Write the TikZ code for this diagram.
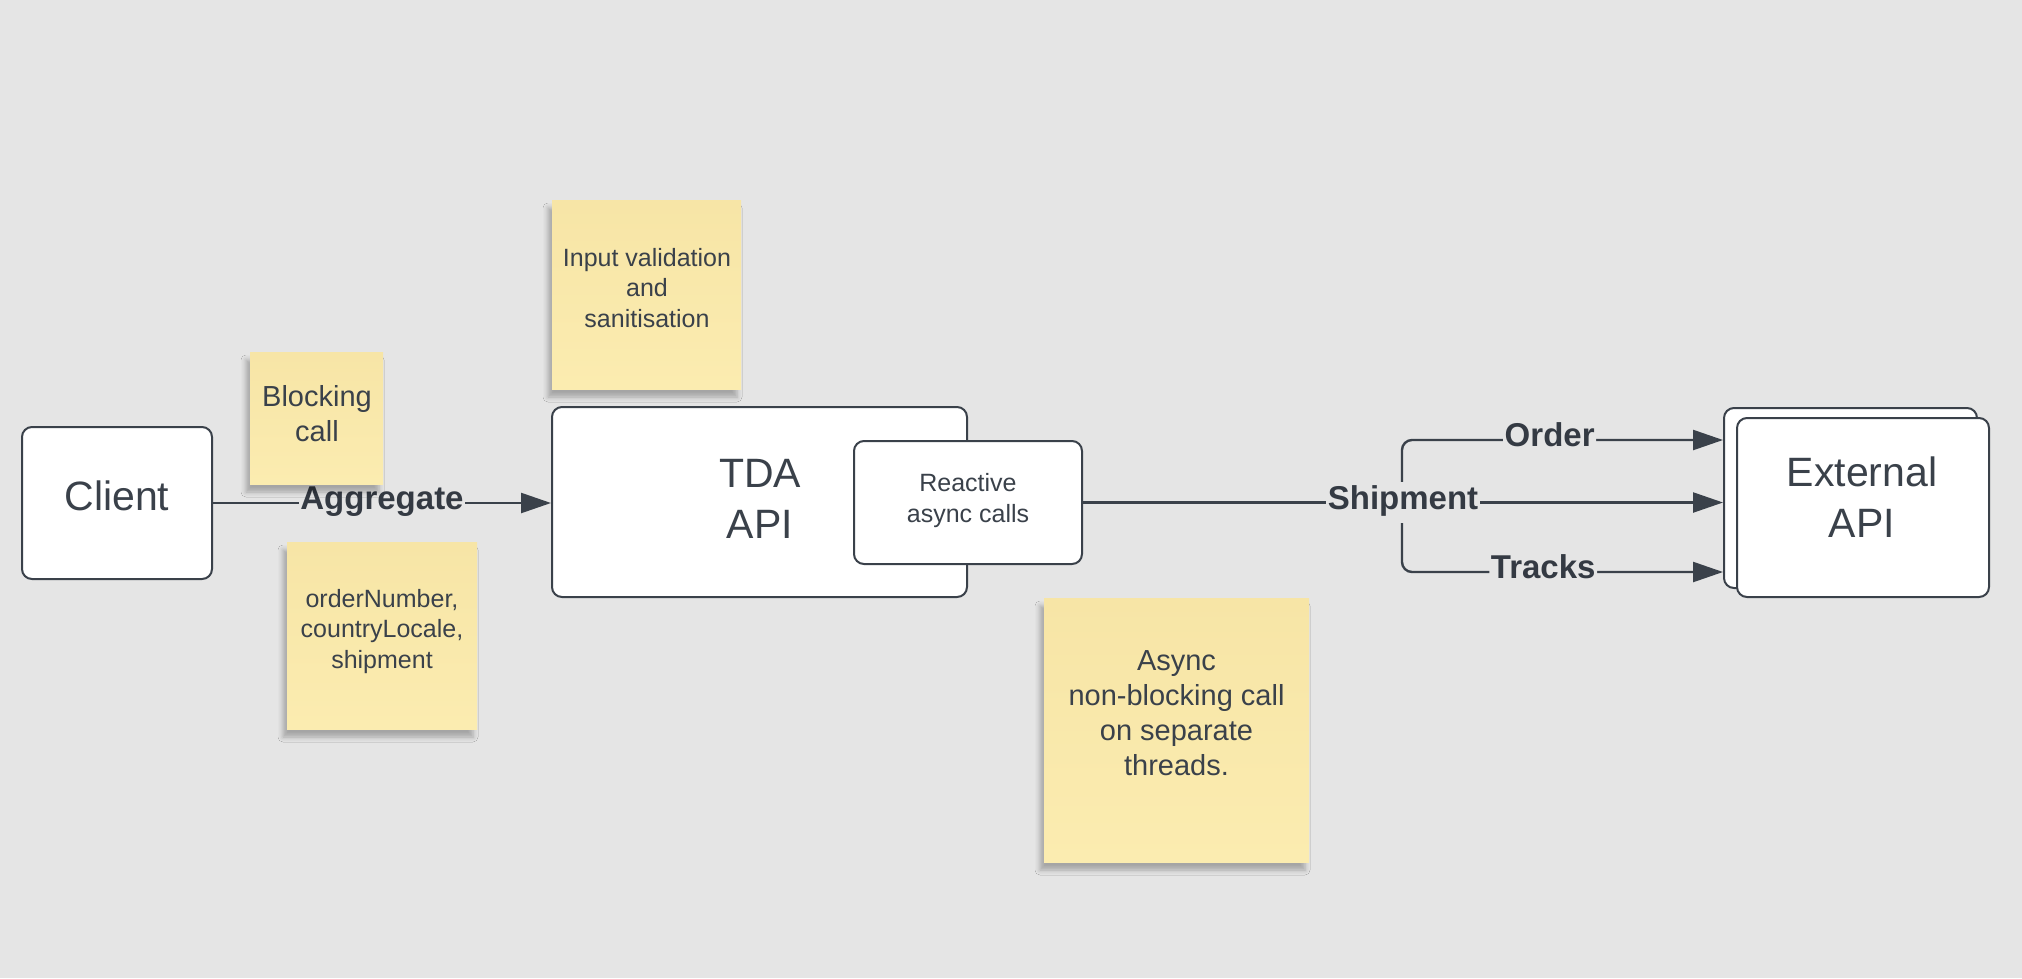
\documentclass[tikz,border=0pt]{standalone}
\usepackage{fontspec}
\setmainfont{Liberation Sans}
\usetikzlibrary{arrows.meta, shadows.blur}

\definecolor{canvas}{RGB}{229,229,229}
\definecolor{ink}{RGB}{58,65,74}
\definecolor{notetop}{RGB}{247,229,166}
\definecolor{notebot}{RGB}{251,236,176}

\begin{document}
\begin{tikzpicture}[x=1pt, y=-1pt,
        block/.style={draw=ink, line width=2pt, fill=white, rounded corners=10pt, inner sep=0pt},
        note/.style={top color=notetop, bottom color=notebot, inner sep=0pt,
            blur shadow={shadow xshift=-4pt, shadow yshift=-8pt, shadow blur radius=5pt, shadow opacity=28}},
        bigtext/.style={text=ink, font=\fontsize{41}{51}\selectfont, align=center, anchor=base},
        notetext/.style={text=ink, font=\fontsize{29}{35}\selectfont, align=center, anchor=base},
        smalltext/.style={text=ink, font=\fontsize{25}{30.5}\selectfont, align=center, anchor=base},
        conn/.style={draw=ink, line width=2.4pt},
        arrow/.style={conn, -{Triangle[length=30pt, width=20pt]}},
        lbl/.style={fill=canvas, text=ink!90!black, font=\bfseries\fontsize{33}{41}\selectfont,
            inner xsep=1.5pt, inner ysep=0pt, text height=27pt, text depth=14pt},]
    \fill[canvas] (0,0) rectangle (2022,978);
    \useasboundingbox (0,0) rectangle (2022,978);

    % boxes
    \node (client) [block, minimum width=190pt, minimum height=152pt] at (117,503) {};
    \node (tda) [block, minimum width=415pt, minimum height=190pt] at (759.5,502) {};
    \node (reactive) [block, minimum width=228pt, minimum height=123pt] at (968,502.5) {};
    \node (ext_back) [block, minimum width=253pt, minimum height=180pt] at (1850.5,498) {};
    \node (ext_front) [block, minimum width=252pt, minimum height=179pt] at (1863,507.5) {};

    % text sits on the baseline of its last line
    \node (client_txt) [bigtext] at (117,510) {Client};
    \node (tda_txt) [bigtext] at (760,538) {TDA\\API};
    \node (reactive_txt) [smalltext] at (968,522) {Reactive\\async calls};
    \node (ext_txt) [bigtext] at (1862,537) {External\\API};

    % calls
    \coordinate (fork) at (1402,502.5);
    \draw[arrow] (client.east) -- node[lbl] {Aggregate} (client.east -| tda.west);
    \draw[arrow, rounded corners=10pt] (reactive.east) -- (fork) |- node[lbl, pos=0.73] {Order} ([yshift=58pt]ext_back.west);
    \draw[arrow, rounded corners=10pt] (reactive.east) -- (fork) |- node[lbl, pos=0.72] {Tracks} ([yshift=-74pt]ext_back.west);
    \draw[arrow] (reactive.east) -- node[lbl] {Shipment} (reactive.east -| ext_back.west);

    % sticky notes
    \node (blocking_note) [note, minimum width=133pt, minimum height=132pt] at (316.5,418) {};
    \node (params_note) [note, minimum width=190pt, minimum height=187pt] at (382,635.5) {};
    \node (validation_note) [note, minimum size=189pt] at (646.5,294.5) {};
    \node (async_note) [note, minimum width=265pt, minimum height=264pt] at (1176.5,730) {};

    \node (blocking_txt) [notetext] at (317,441) {Blocking\\call};
    \node (params_txt) [smalltext] at (382,668) {orderNumber,\\countryLocale,\\shipment};
    \node (validation_txt) [smalltext] at (647,327) {Input validation\\and\\sanitisation};
    \node (async_txt) [notetext] at (1176.5,775) {Async\\non-blocking call\\on separate\\threads.};
\end{tikzpicture}
\end{document}
